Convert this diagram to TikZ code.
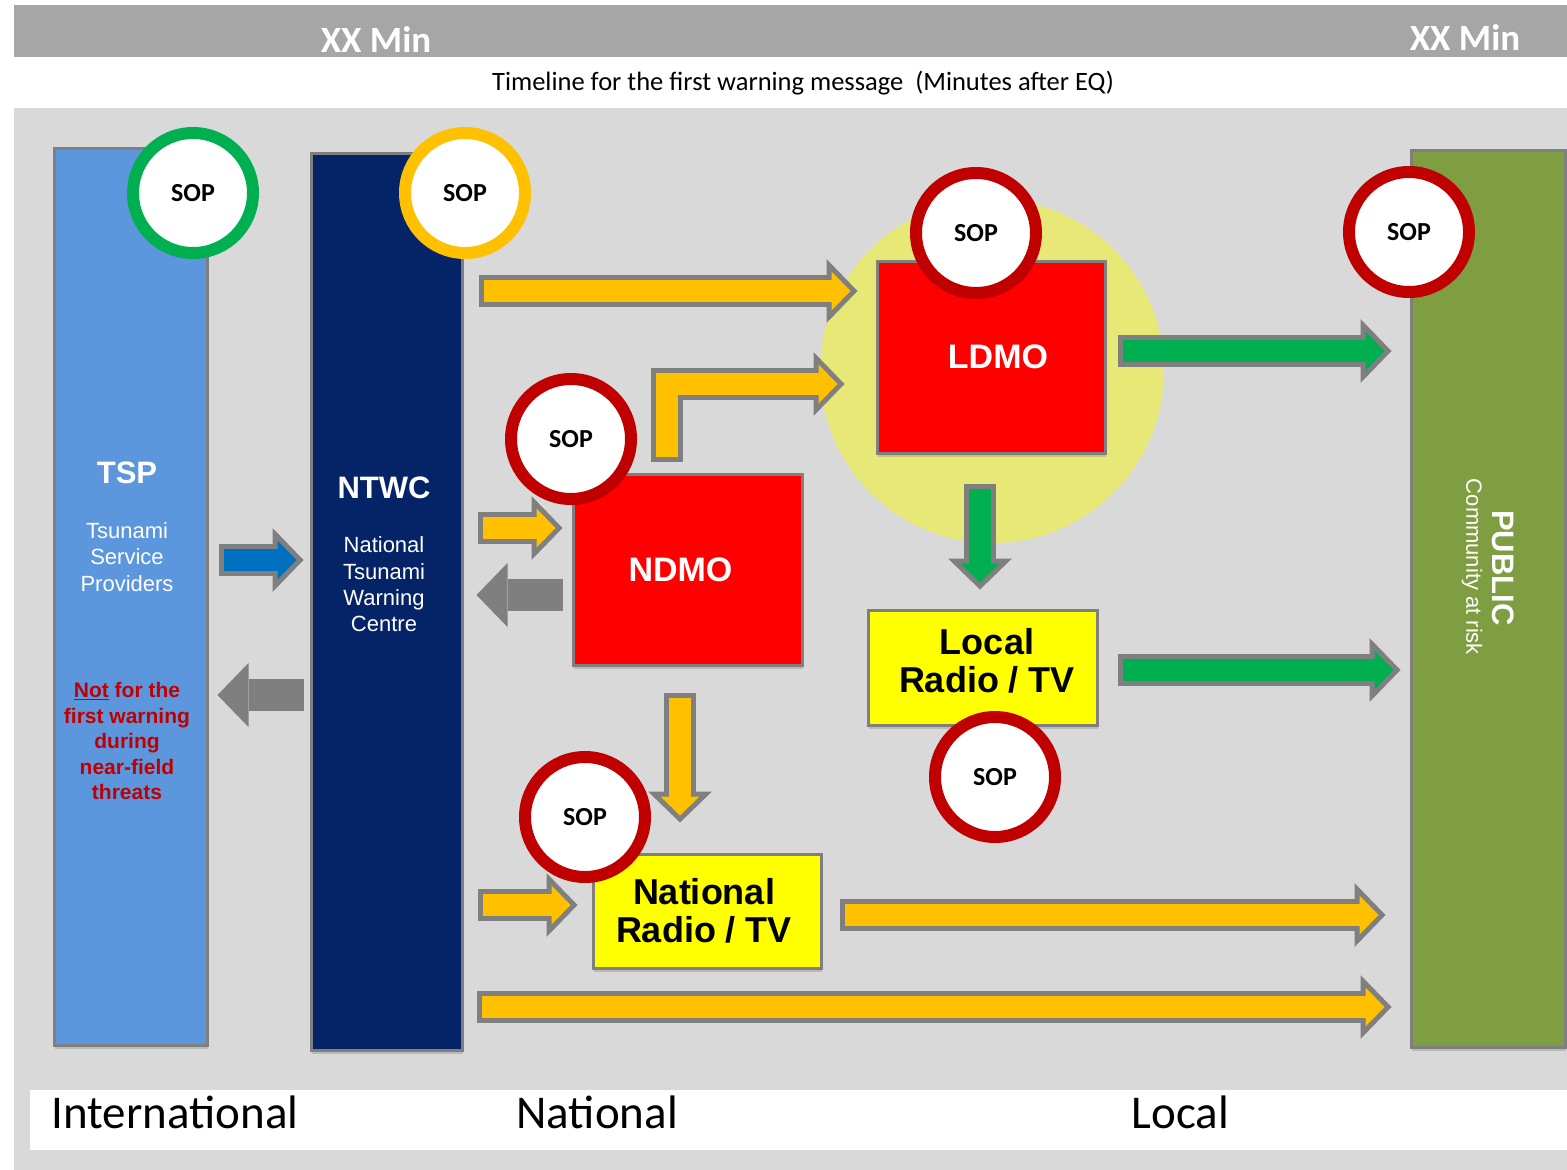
\documentclass[tikz,border=0pt]{standalone}
\usepackage{fontspec}
\setmainfont{Carlito}
\newfontfamily\arialfont{Liberation Sans}
\usetikzlibrary{arrows.meta,calc,shadows}

\definecolor{topgray}{HTML}{A6A6A6}
\definecolor{bggray}{HTML}{D9D9D9}
\definecolor{bordgray}{HTML}{7F7F7F}
\definecolor{tspblue}{RGB}{92,150,221}
\definecolor{ntwcnavy}{RGB}{5,36,104}
\definecolor{publicgreen}{RGB}{127,158,66}
\definecolor{sopgreen}{HTML}{00B050}
\definecolor{sopyellow}{HTML}{FFC000}
\definecolor{sopred}{HTML}{C00000}
\definecolor{boxred}{HTML}{FF0000}
\definecolor{boxyellow}{HTML}{FFFF00}
\definecolor{halo}{RGB}{232,232,118}
\definecolor{arrblue}{HTML}{0070C0}

\tikzset{
  box/.style={rectangle, draw=bordgray, line width=3pt, inner sep=0pt,
    drop shadow={shadow xshift=1pt, shadow yshift=-4pt, opacity=0.35}},
  column/.style={box, fill=#1, minimum width=153pt, minimum height=897pt},
  redbox/.style={box, fill=boxred, minimum width=228pt, minimum height=192pt,
    text=white, font=\arialfont\bfseries\fontsize{34}{40}\selectfont},
  yellowbox/.style={box, fill=boxyellow, minimum width=228pt, minimum height=115pt},
  boxtext/.style={align=center, font=\arialfont\bfseries\fontsize{36}{38}\selectfont},
  sop/.style={circle, draw=#1, line width=12pt, fill=white, minimum size=120pt,
    inner sep=0pt, font=\bfseries\fontsize{26}{30}\selectfont},
  coltitle/.style={text=white, font=\arialfont\bfseries\fontsize{31}{36}\selectfont},
  coltext/.style={text=white, align=center, font=\arialfont\fontsize{22}{26.3}\selectfont},
  warn/.style={text=sopred, align=center, font=\arialfont\bfseries\fontsize{21}{25.5}\selectfont},
  blockarrow/.style={
    preaction={draw=bordgray, line width=32pt, shorten <=0pt, shorten >=0pt,
      -{Triangle[width=64pt,length=31pt,line width=0pt]}},
    draw=#1, line width=22pt, shorten <=5pt, shorten >=7pt,
    -{Triangle[width=39pt,length=19pt,line width=0pt]}},
  backarrow/.style={draw=bordgray, line width=32pt,
    -{Triangle[width=64pt,length=31pt,line width=0pt]}}
}

\begin{document}
\begin{tikzpicture}[x=1pt,y=-1pt]
  \useasboundingbox (0,0) rectangle (1567,1170);
  % bands
  \fill[white] (0,0) rectangle (1567,1170);
  \fill[topgray] (14,5) rectangle (1567,57);
  \fill[bggray] (14,108) rectangle (1567,1170);
  \fill[white] (30,1090) rectangle (1567,1150);
  \node[text=white, font=\bfseries\fontsize{37}{40}\selectfont] (xxleft) at (376,40) {XX Min};
  \node[text=white, font=\bfseries\fontsize{37}{40}\selectfont] (xxright) at (1465,38) {XX Min};
  \node[font=\fontsize{26.5}{30}\selectfont] (timeline) at (803,83) {Timeline for the first warning message\ \ (Minutes after EQ)};
  \node[anchor=base west, font=\fontsize{47}{50}\selectfont] (intl) at (48,1128) {International};
  \node[anchor=base west, font=\fontsize{47}{50}\selectfont] (natl) at (513,1128) {National};
  \node[anchor=base west, font=\fontsize{47}{50}\selectfont] (locl) at (1128,1128) {Local};

  % local halo
  \fill[halo] (992,371) circle [radius=172pt];

  % columns
  \node[column=tspblue] (tsp) at (130.5,596.5) {};
  \node[column=ntwcnavy, minimum width=151pt] (ntwc) at (386.5,601.5) {};
  \node[column=publicgreen, minimum width=154pt] (public) at (1488,598.5) {};
  \node[coltitle] (tsptitle) at (127,473) {TSP};
  \node[coltext] (tsptext) at (127,557) {Tsunami\\Service\\Providers};
  \node[warn] (tspnote) at (127,741) {\underline{Not} for the\\first warning\\during\\near-field\\threats};
  \node[coltitle] (ntwctitle) at (384,488) {NTWC};
  \node[coltext] (ntwctext) at (384,584.5) {National\\Tsunami\\Warning\\Centre};
  \node[coltitle, rotate=-90] (pubtitle) at (1503,568) {PUBLIC};
  \node[coltext, rotate=-90] (pubtext) at (1472,567) {Community at risk};

  % agencies and media
  \node[redbox] (ldmo) at (991,357) {\hspace*{14pt}LDMO};
  \node[redbox, minimum width=229pt, minimum height=191pt] (ndmo) at (687.5,569.5) {NDMO\hspace*{14pt}};
  \node[yellowbox, minimum width=229pt] (local) at (982.5,667.5) {};
  \node[boxtext] (localtext) at (987,661) {Local\\Radio / TV};
  \node[yellowbox, minimum height=114pt] (natlmedia) at (707,911) {};
  \node[boxtext] (natltext) at (704,911) {National\\Radio / TV};

  % arrows
  \draw[blockarrow=arrblue] ($(tsp.east|-0,560)+(10,0)$) -- ($(ntwc.west|-0,560)+(-6,0)$);
  \draw[backarrow] ($(ntwc.west|-0,695)+(-6,0)$) -- ($(tsp.east|-0,695)+(9,0)$);
  \draw[blockarrow=sopyellow] ($(ntwc.east|-0,291)+(15,0)$) -- ($(ldmo.west|-0,291)+(-18,0)$);
  \draw[blockarrow=sopyellow] ($(ndmo.north-|667,0)+(0,-11)$) |- ($(ldmo.west|-0,384)+(-31,0)$);
  \draw[blockarrow=sopyellow] ($(ntwc.east|-0,528)+(14,0)$) -- ($(ndmo.west|-0,528)+(-9,0)$);
  \draw[backarrow] ($(ndmo.west|-0,595)+(-9,0)$) -- ($(ntwc.east|-0,595)+(13,0)$);
  \draw[blockarrow=sopyellow] ($(ndmo.south-|680,0)+(0,26)$) -- ($(natlmedia.north-|680,0)+(0,-30)$);
  \draw[blockarrow=sopgreen] ($(ldmo.south-|980,0)+(0,29)$) -- ($(local.north-|980,0)+(0,-19)$);
  \draw[blockarrow=sopgreen] ($(ldmo.east|-0,351)+(11,0)$) -- ($(public.west|-0,351)+(-18,0)$);
  \draw[blockarrow=sopgreen] ($(local.east|-0,670)+(19,0)$) -- ($(public.west|-0,670)+(-9,0)$);
  \draw[blockarrow=sopyellow] ($(ntwc.east|-0,905)+(14,0)$) -- ($(natlmedia.west|-0,905)+(-14,0)$);
  \draw[blockarrow=sopyellow] ($(natlmedia.east|-0,915)+(17,0)$) -- ($(public.west|-0,915)+(-24,0)$);
  \draw[blockarrow=sopyellow] ($(ntwc.east|-0,1007)+(13,0)$) -- ($(public.west|-0,1007)+(-18,0)$);

  % SOP badges
  \node[sop=sopgreen] (soptsp) at (193,193) {SOP};
  \node[sop=sopyellow] (sopntwc) at (465,193) {SOP};
  \node[sop=sopred] (sopldmo) at (976,233) {SOP};
  \node[sop=sopred] (soppublic) at (1409,232) {SOP};
  \node[sop=sopred] (sopndmo) at (571,439) {SOP};
  \node[sop=sopred] (sopnatl) at (585,817) {SOP};
  \node[sop=sopred] (soplocal) at (995,777) {SOP};
\end{tikzpicture}
\end{document}
